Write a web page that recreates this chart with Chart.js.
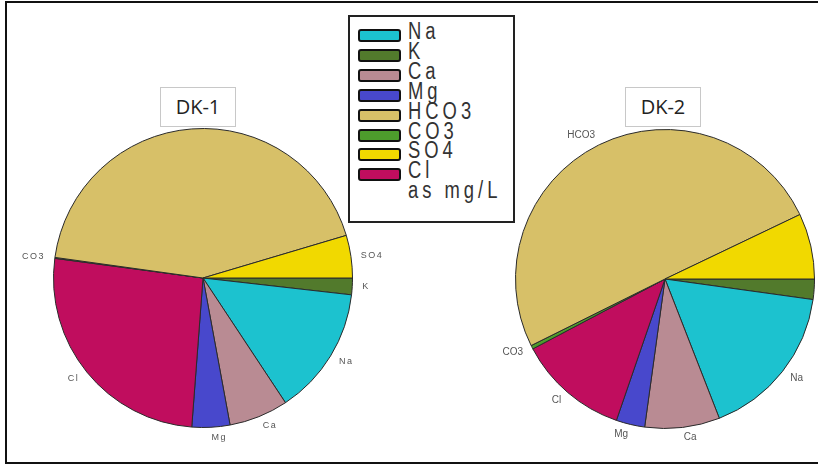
<!DOCTYPE html>
<html>
<head>
<meta charset="utf-8">
<script src="https://cdn.jsdelivr.net/npm/chart.js@4/dist/chart.umd.min.js"></script>
<style>
  body { margin: 0; background: #fff; overflow: hidden; }
  #page { position: relative; width: 818px; height: 465px; overflow: hidden; }
  #frame { position: absolute; left: 5px; top: 1px; width: 830px; height: 459px;
           border-left: 2px solid #111; border-top: 2px solid #111; border-bottom: 2px solid #111; }
  canvas { position: absolute; }
  .title { position: absolute; background: #fff; border: 1px solid #c8c8c8;
           font-family: "Open Sans", sans-serif; font-size: 20px; color: #222;
           text-align: center; line-height: 37px; z-index: 5; }
  #legend { position: absolute; left: 348px; top: 15px; width: 163px; height: 204px;
            border: 2px solid #222; background: #fff; z-index: 4; }
  .row { position: absolute; left: 8px; height: 20px; }
  .sw { position: absolute; left: 0; top: 4px; width: 39px; height: 9px;
        border: 2px solid #111; border-radius: 3px; }
  .txt { position: absolute; left: 50px; top: -7px; white-space: nowrap;
         font-family: "Liberation Sans", Arial, sans-serif; font-size: 23px; color: #333;
         letter-spacing: 5px; transform: scaleX(0.8); transform-origin: left center; }
</style>
</head>
<body>
<div id="page">
  <div id="frame"></div>
  <canvas id="dk1" width="400" height="400" style="left:3px; top:78px;"></canvas>
  <canvas id="dk2" width="400" height="400" style="left:465px; top:79px;"></canvas>
  <div class="title" style="left:160px; top:87px; width:74px; height:38px;">DK-1</div>
  <div class="title" style="left:625px; top:87px; width:74px; height:38px;">DK-2</div>
  <div id="legend"></div>
</div>
<script>
// ions in legend order
const ions = ["Na", "K", "Ca", "Mg", "HCO3", "CO3", "SO4", "Cl"];
const ionColors = ["#1cc2cf", "#527a2c", "#b98b93", "#4848cc", "#d7c068", "#4d9c2c", "#f1d900", "#c00d5e"];
// share of each ion (%)
const dk1Values = [13.9, 1.8, 6.4, 4.1, 43.2, 0.1, 4.6, 25.9];
const dk2Values = [16.9, 2.2, 8.1, 3.1, 50.3, 0.4, 7.1, 12.0];
// slice order, clockwise from 3 o'clock
const sliceOrder = ["K", "Na", "Ca", "Mg", "Cl", "CO3", "HCO3", "SO4"];
const unitNote = "as mg/L";

// legend box
const legend = document.getElementById("legend");
ions.concat([unitNote]).forEach((name, i) => {
  const row = document.createElement("div");
  row.className = "row";
  row.style.top = (8 + i * 19.9) + "px";
  if (i < ions.length) {
    const sw = document.createElement("div");
    sw.className = "sw";
    sw.style.background = ionColors[i];
    row.appendChild(sw);
  }
  const t = document.createElement("div");
  t.className = "txt";
  t.textContent = name;
  row.appendChild(t);
  legend.appendChild(row);
});

const sliceLabels = {
  id: "sliceLabels",
  afterDatasetsDraw(chart, args, opts) {
    const ctx = chart.ctx;
    const meta = chart.getDatasetMeta(0);
    ctx.save();
    ctx.font = opts.font;
    ctx.fillStyle = "#555";
    ctx.textBaseline = "middle";
    if (opts.spacing) ctx.letterSpacing = opts.spacing;
    meta.data.forEach((arc, i) => {
      const p = arc.getProps(["x", "y", "startAngle", "endAngle", "outerRadius"], true);
      const mid = (p.startAngle + p.endAngle) / 2;
      const r = p.outerRadius + 10;
      const x = p.x + Math.cos(mid) * r;
      const y = p.y + Math.sin(mid) * r;
      ctx.textAlign = Math.cos(mid) >= 0 ? "left" : "right";
      ctx.fillText(chart.data.labels[i], x, y);
    });
    ctx.restore();
  }
};

const makePie = (id, values, font, spacing) => {
  const data = sliceOrder.map(n => values[ions.indexOf(n)]);
  const colors = sliceOrder.map(n => ionColors[ions.indexOf(n)]);
  new Chart(document.getElementById(id), {
    type: "pie",
    data: {
      labels: sliceOrder,
      datasets: [{
        data: data,
        backgroundColor: colors,
        borderColor: "#2a2a2a",
        borderWidth: 1,
      }],
    },
    options: {
      responsive: false,
      animation: false,
      rotation: 90,
      layout: { padding: 50 },
      plugins: {
        legend: { display: false },
        tooltip: { enabled: false },
        sliceLabels: { font: font, spacing: spacing },
      },
    },
    plugins: [sliceLabels],
  });
};

makePie("dk1", dk1Values, "9px 'Liberation Sans', Arial, sans-serif", "1.5px");
makePie("dk2", dk2Values, "10px 'Liberation Sans', Arial, sans-serif", "0px");
</script>
</body>
</html>
